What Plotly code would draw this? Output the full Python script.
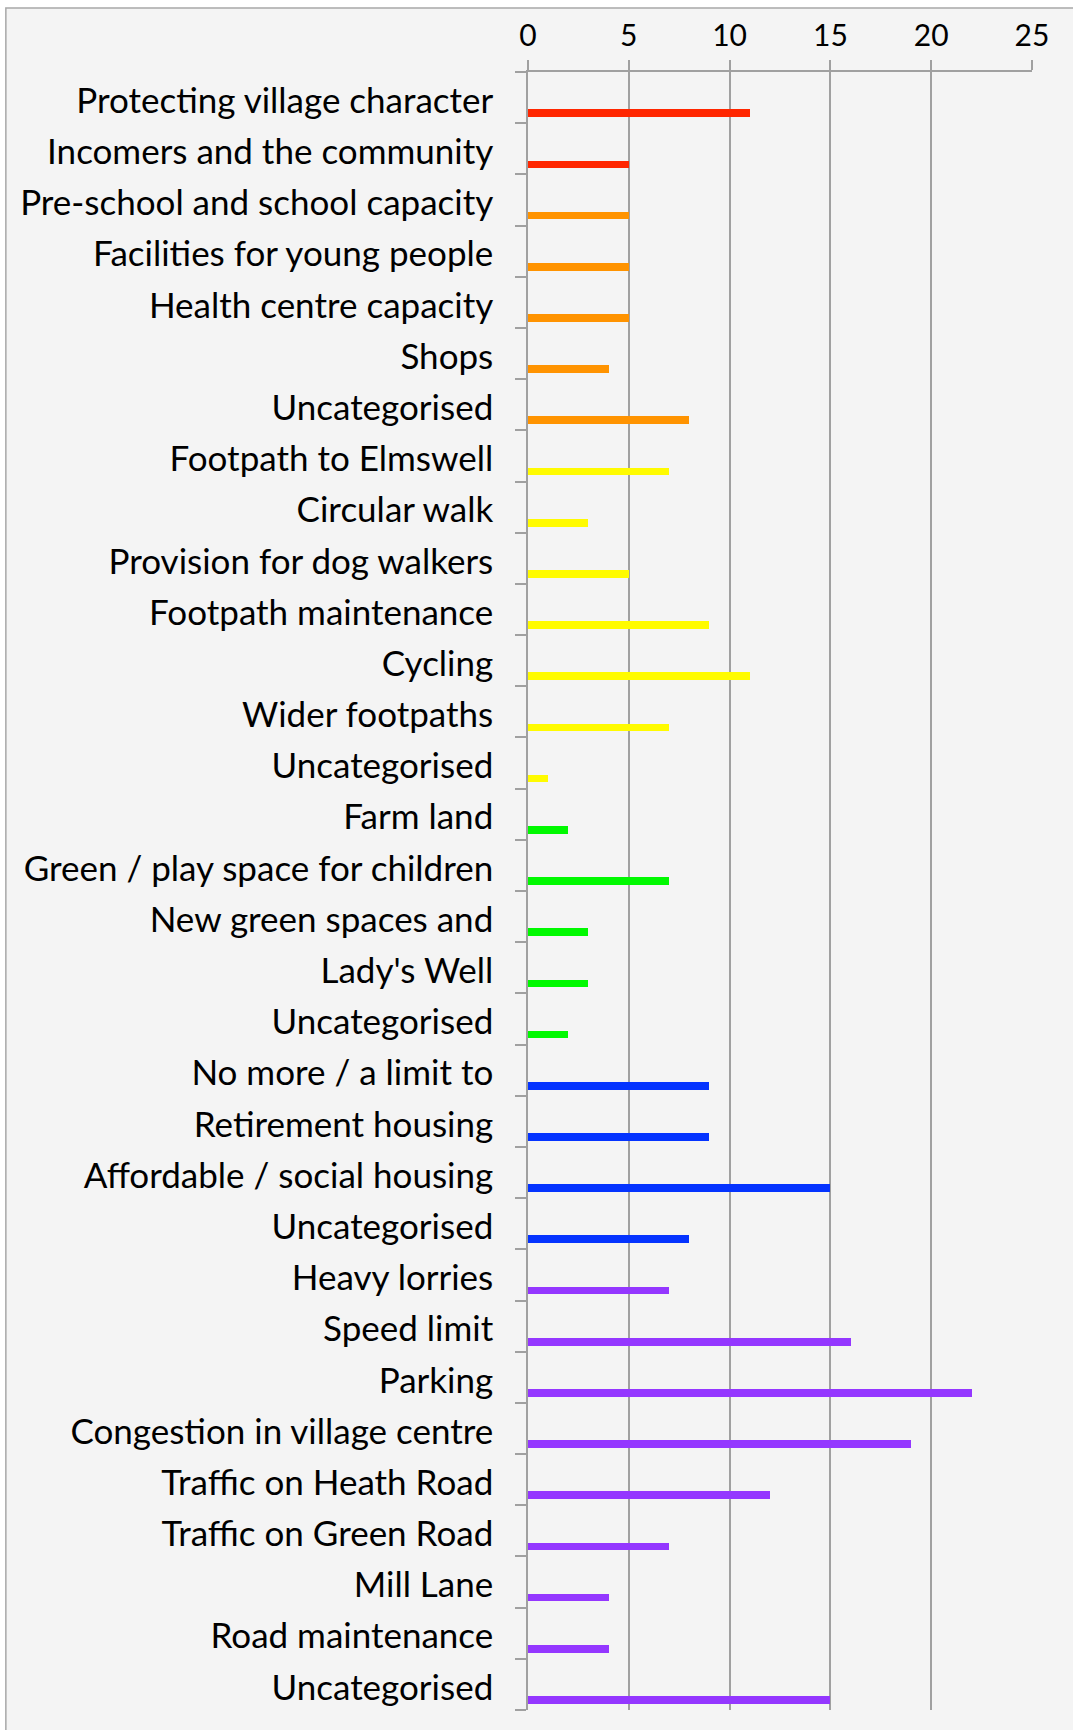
import plotly.graph_objects as go

# survey topics, top to bottom
topics = [
    "Protecting village character", "Incomers and the community",
    "Pre-school and school capacity", "Facilities for young people",
    "Health centre capacity", "Shops", "Uncategorised",
    "Footpath to Elmswell", "Circular walk", "Provision for dog walkers",
    "Footpath maintenance", "Cycling", "Wider footpaths", "Uncategorised",
    "Farm land", "Green / play space for children", "New green spaces and",
    "Lady's Well", "Uncategorised",
    "No more / a limit to", "Retirement housing", "Affordable / social housing",
    "Uncategorised",
    "Heavy lorries", "Speed limit", "Parking", "Congestion in village centre",
    "Traffic on Heath Road", "Traffic on Green Road", "Mill Lane",
    "Road maintenance", "Uncategorised",
]
counts = [11, 5, 5, 5, 5, 4, 8, 7, 3, 5, 9, 11, 7, 1, 2, 7, 3, 3, 2,
          9, 9, 15, 8, 7, 16, 22, 19, 12, 7, 4, 4, 15]
themes = (["character"] * 2 + ["services"] * 5 + ["paths"] * 7 +
          ["green"] * 5 + ["housing"] * 4 + ["traffic"] * 9)
x_ticks = [0, 5, 10, 15, 20, 25]

theme_colors = {
    "character": "#FF2600",
    "services": "#FF9300",
    "paths": "#FFFB00",
    "green": "#00F900",
    "housing": "#0433FF",
    "traffic": "#9437FF",
}

grey = "#A0A0A0"
pos = list(range(len(topics)))

fig = go.Figure()
fig.add_trace(
    go.Bar(
        x=counts,
        y=pos,
        orientation="h",
        width=0.15,
        offset=0.23,
        marker=dict(color=[theme_colors[t] for t in themes], line=dict(width=0)),
        showlegend=False,
        hovertemplate="%{customdata}: %{x}<extra></extra>",
        customdata=topics,
    )
)

# chart frame (background panel with grey border, cut off at right/bottom)
fig.add_shape(
    type="rect", xref="paper", yref="paper",
    x0=-1.036, x1=1.3, y0=-0.05, y1=1.039,
    fillcolor="#F4F4F4", line=dict(color="#A8A8A8", width=1.5),
    layer="below",
)

fig.update_layout(
    width=1073,
    height=1730,
    margin=dict(l=528, r=41, t=72, b=20),
    paper_bgcolor="white",
    plot_bgcolor="rgba(0,0,0,0)",
    font=dict(family="Lato, sans-serif", color="black"),
    bargap=0,
    xaxis=dict(
        side="top",
        range=[0, 25],
        tickvals=x_ticks,
        showgrid=True,
        gridcolor=grey,
        gridwidth=1.5,
        zeroline=False,
        showline=True,
        linecolor=grey,
        linewidth=1.5,
        ticks="outside",
        ticklen=10,
        tickwidth=1.5,
        tickcolor=grey,
        ticklabelstandoff=2,
        tickfont=dict(size=30),
    ),
    yaxis=dict(
        range=[len(topics) - 0.5, -0.5],
        tickvals=pos,
        ticktext=topics,
        ticks="",
        showgrid=False,
        zeroline=False,
        showline=True,
        linecolor=grey,
        linewidth=1.5,
        ticklabelstandoff=26,
        ticklabelshift=-3,
        tickfont=dict(size=35),
        minor=dict(
            tick0=0.5, dtick=1, ticks="outside", ticklen=11,
            tickwidth=1.5, tickcolor=grey, showgrid=False,
        ),
    ),
)

fig.write_html("out.html", config={"displayModeBar": False},
               post_script="document.body.style.margin='0';")
